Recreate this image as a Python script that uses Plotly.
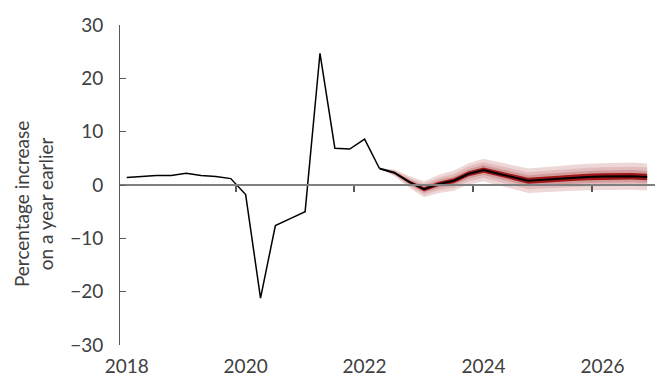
import plotly.graph_objects as go

# Quarterly series, 2018 Q1 to 2026 Q4
quarters = [f"{y} Q{q}" for y in range(2018, 2027) for q in range(1, 5)]

# Outturns (percentage change on a year earlier), 2018 Q1 - 2022 Q2
history = [1.4, 1.6, 1.8, 1.8, 2.2, 1.8, 1.6, 1.2, -1.8, -21.2, -7.6, -6.3,
           -5.0, 24.7, 6.9, 6.75, 8.6, 3.1]

# Projection central path, 2022 Q2 - 2026 Q4
central = [3.1, 2.3, 0.6, -0.8, 0.2, 0.8, 2.1, 2.8, 2.1, 1.5, 0.8, 1.0,
           1.2, 1.35, 1.5, 1.6, 1.65, 1.65, 1.5]

# Half-width of the outer (90%) fan band around the central path
fan_width = [0.0, 0.6, 1.1, 1.5, 1.7, 1.9, 2.0, 2.1, 2.2, 2.25, 2.3, 2.35,
             2.4, 2.45, 2.5, 2.5, 2.55, 2.55, 2.55]

# Share of the outer half-width covered by each band, outermost first
band_shares = [1.0, 0.7, 0.45, 0.24]
band_colors = ["#EED7D7", "#E3BDBD", "#D39C9C", "#A01818"]

year_labels = ["2018", "2020", "2022", "2024", "2026"]
y_ticks = [-30, -20, -10, 0, 10, 20, 30]

TEXT = "#404040"
AXIS = "#595959"
FONT = "Lato, 'Open Sans', sans-serif"
SIZE = 19

idx = list(range(len(quarters)))
start = len(history) - 1
hist_x = idx[:len(history)]
fc_x = idx[start:start + len(central)]

# label positions: first quarter of each labelled year
label_pos = [quarters.index(f"{y} Q1") for y in year_labels]
tick_pos = [p - 0.68 for p in label_pos]

fig = go.Figure()

for share, col in zip(band_shares, band_colors):
    upper = [c + w * share for c, w in zip(central, fan_width)]
    lower = [c - w * share for c, w in zip(central, fan_width)]
    fig.add_trace(go.Scatter(
        x=fc_x + fc_x[::-1], y=upper + lower[::-1],
        fill="toself", fillcolor=col, line=dict(width=0),
        mode="lines", hoverinfo="skip", showlegend=False,
    ))

fig.add_trace(go.Scatter(x=fc_x, y=central, mode="lines",
                         line=dict(color="#000000", width=2),
                         showlegend=False))
fig.add_trace(go.Scatter(x=hist_x, y=history, mode="lines",
                         line=dict(color="#000000", width=1.5),
                         showlegend=False))

fig.update_layout(
    width=657, height=381,
    margin=dict(l=120, r=2, t=25, b=36),
    paper_bgcolor="white", plot_bgcolor="white",
    font=dict(family=FONT, size=SIZE, color=TEXT),
    xaxis=dict(
        range=[-0.45, 35.53], showgrid=False, zeroline=False, showline=False,
        tickmode="array", tickvals=label_pos, ticktext=year_labels,
        ticks="", ticklabelstandoff=8,
    ),
    xaxis2=dict(
        overlaying="x", matches="x", anchor="free", position=0.5,
        showgrid=False, zeroline=False, showline=True,
        linecolor="#808080", linewidth=2,
        tickmode="array", tickvals=tick_pos, ticks="outside",
        ticklen=6, tickwidth=1.5, tickcolor="#595959",
        showticklabels=False,
    ),
    yaxis=dict(
        range=[-30, 30], showgrid=False, zeroline=False,
        showline=True, linecolor=AXIS, linewidth=1,
        tickmode="array", tickvals=y_ticks, ticks="inside",
        ticklen=6, tickcolor=AXIS, ticklabelstandoff=12,
    ),
    annotations=[dict(
        text="Percentage increase<br>on a year earlier",
        xref="paper", yref="paper", x=-0.161, y=0.44,
        xanchor="center", yanchor="middle",
        textangle=-90, showarrow=False,
        font=dict(family=FONT, size=SIZE, color=TEXT),
    )],
)

# invisible point so the overlaying axis is drawn
fig.add_trace(go.Scatter(x=[0], y=[0], xaxis="x2", mode="markers",
                         marker=dict(opacity=0), hoverinfo="skip",
                         showlegend=False))

fig.write_html("out.html")
